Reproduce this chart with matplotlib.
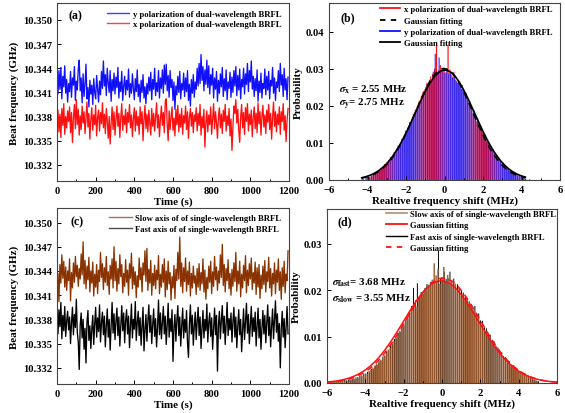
import numpy as np
import matplotlib
matplotlib.use("Agg")
import matplotlib.pyplot as plt
from matplotlib.lines import Line2D
from matplotlib.ticker import MultipleLocator, FormatStrFormatter

plt.rcParams["font.family"] = ["Liberation Serif", "DejaVu Serif"]
plt.rcParams["font.weight"] = "bold"
plt.rcParams["mathtext.fontset"] = "stix"

# ---------------- beat-frequency records (GHz), one sample every 5 s ----------------
sample_step_s = 5

y_pol_dual = [
    10.3425, 10.3408, 10.3437, 10.3414, 10.3441, 10.3402, 10.3430, 10.3417, 10.3443, 10.3409, 10.3426, 10.3398,
    10.3421, 10.3411, 10.3436, 10.3404, 10.3428, 10.3419, 10.3442, 10.3400, 10.3424, 10.3413, 10.3439, 10.3450,
    10.3412, 10.3428, 10.3397, 10.3433, 10.3405, 10.3420, 10.3445, 10.3402, 10.3416, 10.3392, 10.3425, 10.3408,
    10.3419, 10.3395, 10.3427, 10.3410, 10.3402, 10.3431, 10.3414, 10.3398, 10.3424, 10.3407, 10.3436, 10.3415,
    10.3449, 10.3418, 10.3432, 10.3406, 10.3440, 10.3421, 10.3410, 10.3437, 10.3399, 10.3426, 10.3412, 10.3434,
    10.3408, 10.3429, 10.3416, 10.3441, 10.3403, 10.3423, 10.3411, 10.3436, 10.3400, 10.3418, 10.3430, 10.3407,
    10.3425, 10.3413, 10.3439, 10.3404, 10.3421, 10.3409, 10.3433, 10.3415, 10.3401, 10.3427, 10.3411, 10.3438,
    10.3405, 10.3420, 10.3398, 10.3425, 10.3410, 10.3432, 10.3403, 10.3417, 10.3396, 10.3421, 10.3408, 10.3429,
    10.3412, 10.3435, 10.3401, 10.3426, 10.3414, 10.3440, 10.3406, 10.3422, 10.3411, 10.3437, 10.3403, 10.3428,
    10.3415, 10.3438, 10.3409, 10.3444, 10.3420, 10.3445, 10.3412, 10.3431, 10.3404, 10.3437, 10.3416, 10.3426,
    10.3400, 10.3423, 10.3389, 10.3418, 10.3407, 10.3430, 10.3410, 10.3436, 10.3402, 10.3421, 10.3413, 10.3434,
    10.3405, 10.3428, 10.3411, 10.3437, 10.3400, 10.3420, 10.3393, 10.3426, 10.3409, 10.3432, 10.3404, 10.3423,
    10.3414, 10.3440, 10.3418, 10.3446, 10.3421, 10.3457, 10.3425, 10.3442, 10.3412, 10.3438, 10.3420, 10.3450,
    10.3416, 10.3443, 10.3408, 10.3432, 10.3419, 10.3440, 10.3403, 10.3428, 10.3414, 10.3436, 10.3399, 10.3425,
    10.3409, 10.3433, 10.3417, 10.3441, 10.3405, 10.3427, 10.3412, 10.3438, 10.3401, 10.3423, 10.3415, 10.3435,
    10.3404, 10.3429, 10.3410, 10.3437, 10.3418, 10.3442, 10.3406, 10.3431, 10.3413, 10.3439, 10.3402, 10.3426,
    10.3417, 10.3440, 10.3408, 10.3433, 10.3420, 10.3446, 10.3411, 10.3437, 10.3423, 10.3449, 10.3414, 10.3430,
    10.3405, 10.3427, 10.3412, 10.3438, 10.3399, 10.3424, 10.3410, 10.3434, 10.3403, 10.3421, 10.3415, 10.3439,
    10.3407, 10.3430, 10.3413, 10.3436, 10.3402, 10.3425, 10.3418, 10.3441, 10.3409, 10.3428, 10.3400, 10.3423,
    10.3416, 10.3437, 10.3411, 10.3446, 10.3419, 10.3432, 10.3405, 10.3440, 10.3413, 10.3427, 10.3401, 10.3429,
]

x_pol_dual = [
    10.3372, 10.3388, 10.3361, 10.3383, 10.3354, 10.3390, 10.3369, 10.3396, 10.3358, 10.3380, 10.3366, 10.3387,
    10.3374, 10.3392, 10.3360, 10.3385, 10.3348, 10.3379, 10.3395, 10.3365, 10.3401, 10.3370, 10.3389, 10.3357,
    10.3381, 10.3364, 10.3393, 10.3372, 10.3386, 10.3359, 10.3378, 10.3398, 10.3367, 10.3384, 10.3352, 10.3376,
    10.3391, 10.3363, 10.3382, 10.3370, 10.3394, 10.3356, 10.3379, 10.3388, 10.3362, 10.3385, 10.3371, 10.3397,
    10.3366, 10.3383, 10.3359, 10.3390, 10.3375, 10.3353, 10.3380, 10.3346, 10.3372, 10.3392, 10.3364, 10.3386,
    10.3357, 10.3377, 10.3393, 10.3368, 10.3384, 10.3354, 10.3379, 10.3396, 10.3363, 10.3381, 10.3370, 10.3389,
    10.3360, 10.3385, 10.3373, 10.3395, 10.3366, 10.3382, 10.3355, 10.3378, 10.3391, 10.3362, 10.3387, 10.3369,
    10.3380, 10.3358, 10.3392, 10.3371, 10.3386, 10.3350, 10.3376, 10.3394, 10.3365, 10.3383, 10.3361, 10.3388,
    10.3373, 10.3357, 10.3390, 10.3368, 10.3384, 10.3362, 10.3379, 10.3397, 10.3366, 10.3382, 10.3355, 10.3377,
    10.3393, 10.3369, 10.3385, 10.3360, 10.3399, 10.3402, 10.3371, 10.3350, 10.3387, 10.3364, 10.3380, 10.3392,
    10.3363, 10.3378, 10.3356, 10.3389, 10.3370, 10.3394, 10.3361, 10.3383, 10.3367, 10.3390, 10.3358, 10.3381,
    10.3372, 10.3393, 10.3364, 10.3386, 10.3353, 10.3379, 10.3390, 10.3368, 10.3385, 10.3360, 10.3382, 10.3374,
    10.3391, 10.3362, 10.3384, 10.3369, 10.3395, 10.3357, 10.3380, 10.3366, 10.3389, 10.3342, 10.3373, 10.3387,
    10.3361, 10.3382, 10.3370, 10.3392, 10.3358, 10.3378, 10.3396, 10.3365, 10.3386, 10.3372, 10.3353, 10.3380,
    10.3391, 10.3366, 10.3383, 10.3359, 10.3388, 10.3374, 10.3395, 10.3362, 10.3381, 10.3369, 10.3390, 10.3356,
    10.3377, 10.3338, 10.3368, 10.3393, 10.3384, 10.3401, 10.3372, 10.3389, 10.3363, 10.3348, 10.3380, 10.3395,
    10.3366, 10.3385, 10.3358, 10.3391, 10.3374, 10.3396, 10.3362, 10.3383, 10.3370, 10.3388, 10.3355, 10.3379,
    10.3392, 10.3365, 10.3384, 10.3360, 10.3397, 10.3371, 10.3386, 10.3357, 10.3380, 10.3394, 10.3367, 10.3382,
    10.3359, 10.3388, 10.3373, 10.3395, 10.3364, 10.3384, 10.3352, 10.3379, 10.3398, 10.3368, 10.3386, 10.3361,
    10.3383, 10.3370, 10.3392, 10.3358, 10.3386, 10.3374, 10.3396, 10.3363, 10.3381, 10.3349, 10.3375, 10.3390,
]

slow_single = [
    10.3412, 10.3437, 10.3402, 10.3448, 10.3425, 10.3460, 10.3431, 10.3452, 10.3420, 10.3445, 10.3416, 10.3440,
    10.3428, 10.3455, 10.3403, 10.3438, 10.3419, 10.3450, 10.3426, 10.3458, 10.3433, 10.3447, 10.3421, 10.3443,
    10.3430, 10.3461, 10.3435, 10.3476, 10.3424, 10.3453, 10.3418, 10.3446, 10.3429, 10.3457, 10.3414, 10.3440,
    10.3425, 10.3451, 10.3409, 10.3436, 10.3420, 10.3448, 10.3412, 10.3441, 10.3427, 10.3463, 10.3432, 10.3449,
    10.3417, 10.3444, 10.3426, 10.3458, 10.3422, 10.3439, 10.3411, 10.3447, 10.3430, 10.3455, 10.3419, 10.3470,
    10.3428, 10.3452, 10.3415, 10.3443, 10.3424, 10.3460, 10.3433, 10.3448, 10.3413, 10.3437, 10.3421, 10.3454,
    10.3426, 10.3441, 10.3410, 10.3449, 10.3431, 10.3462, 10.3418, 10.3445, 10.3423, 10.3439, 10.3407, 10.3434,
    10.3420, 10.3456, 10.3429, 10.3444, 10.3414, 10.3450, 10.3435, 10.3465, 10.3427, 10.3468, 10.3416, 10.3442,
    10.3425, 10.3453, 10.3410, 10.3437, 10.3422, 10.3447, 10.3418, 10.3441, 10.3429, 10.3459, 10.3412, 10.3436,
    10.3420, 10.3448, 10.3426, 10.3455, 10.3408, 10.3440, 10.3417, 10.3452, 10.3424, 10.3438, 10.3404, 10.3433,
    10.3419, 10.3447, 10.3406, 10.3442, 10.3428, 10.3463, 10.3430, 10.3482, 10.3421, 10.3450, 10.3413, 10.3444,
    10.3427, 10.3456, 10.3415, 10.3440, 10.3423, 10.3451, 10.3409, 10.3437, 10.3419, 10.3446, 10.3425, 10.3434,
    10.3411, 10.3443, 10.3420, 10.3449, 10.3416, 10.3438, 10.3424, 10.3455, 10.3414, 10.3441, 10.3405, 10.3432,
    10.3418, 10.3446, 10.3426, 10.3452, 10.3412, 10.3439, 10.3421, 10.3458, 10.3429, 10.3445, 10.3416, 10.3440,
    10.3425, 10.3460, 10.3432, 10.3473, 10.3422, 10.3448, 10.3414, 10.3443, 10.3428, 10.3454, 10.3418, 10.3437,
    10.3410, 10.3442, 10.3421, 10.3450, 10.3427, 10.3463, 10.3415, 10.3440, 10.3424, 10.3452, 10.3408, 10.3436,
    10.3419, 10.3447, 10.3428, 10.3459, 10.3413, 10.3441, 10.3422, 10.3449, 10.3430, 10.3456, 10.3417, 10.3438,
    10.3425, 10.3451, 10.3411, 10.3444, 10.3420, 10.3448, 10.3406, 10.3435, 10.3418, 10.3446, 10.3423, 10.3453,
    10.3414, 10.3439, 10.3427, 10.3457, 10.3419, 10.3443, 10.3409, 10.3437, 10.3424, 10.3450, 10.3412, 10.3441,
    10.3426, 10.3455, 10.3416, 10.3439, 10.3405, 10.3444, 10.3421, 10.3452, 10.3413, 10.3436, 10.3428, 10.3465,
]

fast_single = [
    10.3380, 10.3362, 10.3392, 10.3371, 10.3401, 10.3356, 10.3385, 10.3366, 10.3396, 10.3359, 10.3378, 10.3390,
    10.3367, 10.3383, 10.3350, 10.3376, 10.3395, 10.3361, 10.3386, 10.3370, 10.3405, 10.3364, 10.3352, 10.3318,
    10.3373, 10.3388, 10.3357, 10.3380, 10.3343, 10.3369, 10.3326, 10.3377, 10.3391, 10.3354, 10.3372, 10.3344,
    10.3368, 10.3385, 10.3349, 10.3375, 10.3395, 10.3358, 10.3382, 10.3365, 10.3398, 10.3352, 10.3376, 10.3389,
    10.3361, 10.3384, 10.3346, 10.3372, 10.3393, 10.3358, 10.3380, 10.3342, 10.3370, 10.3401, 10.3363, 10.3387,
    10.3355, 10.3378, 10.3394, 10.3360, 10.3383, 10.3347, 10.3371, 10.3397, 10.3366, 10.3388, 10.3351, 10.3379,
    10.3392, 10.3362, 10.3384, 10.3345, 10.3373, 10.3399, 10.3357, 10.3380, 10.3368, 10.3402, 10.3354, 10.3376,
    10.3390, 10.3360, 10.3382, 10.3348, 10.3372, 10.3395, 10.3341, 10.3367, 10.3386, 10.3353, 10.3378, 10.3398,
    10.3364, 10.3385, 10.3350, 10.3374, 10.3393, 10.3359, 10.3381, 10.3346, 10.3370, 10.3404, 10.3361, 10.3388,
    10.3356, 10.3377, 10.3396, 10.3362, 10.3384, 10.3349, 10.3373, 10.3400, 10.3358, 10.3381, 10.3365, 10.3392,
    10.3328, 10.3370, 10.3386, 10.3353, 10.3379, 10.3397, 10.3360, 10.3383, 10.3347, 10.3372, 10.3394, 10.3357,
    10.3380, 10.3364, 10.3391, 10.3351, 10.3333, 10.3375, 10.3398, 10.3362, 10.3385, 10.3348, 10.3371, 10.3389,
    10.3355, 10.3378, 10.3395, 10.3360, 10.3383, 10.3344, 10.3369, 10.3391, 10.3357, 10.3380, 10.3366, 10.3399,
    10.3352, 10.3376, 10.3388, 10.3359, 10.3382, 10.3343, 10.3370, 10.3394, 10.3361, 10.3385, 10.3316, 10.3373,
    10.3390, 10.3356, 10.3379, 10.3397, 10.3363, 10.3384, 10.3349, 10.3374, 10.3401, 10.3360, 10.3381, 10.3367,
    10.3388, 10.3352, 10.3377, 10.3395, 10.3358, 10.3383, 10.3345, 10.3371, 10.3392, 10.3361, 10.3380, 10.3340,
    10.3368, 10.3393, 10.3355, 10.3378, 10.3400, 10.3363, 10.3386, 10.3350, 10.3374, 10.3396, 10.3359, 10.3382,
    10.3365, 10.3389, 10.3347, 10.3372, 10.3394, 10.3357, 10.3380, 10.3343, 10.3369, 10.3391, 10.3362, 10.3385,
    10.3351, 10.3376, 10.3398, 10.3360, 10.3383, 10.3346, 10.3371, 10.3393, 10.3356, 10.3379, 10.3403, 10.3364,
    10.3387, 10.3353, 10.3375, 10.3320, 10.3368, 10.3390, 10.3358, 10.3381, 10.3345, 10.3372, 10.3396, 10.3362,
]

# ---------------- histograms of relative frequency shift (MHz) ----------------
bin_width = 0.1
dual_bin_start = -4.4          # first bin centre for the dual-wavelength laser
x_pol_prob = [
    0.0, 0.0, 0.0003, 0.0, 0.0006, 0.0008, 0.0011, 0.0013, 0.0018, 0.0022,
    0.0025, 0.0033, 0.0031, 0.0043, 0.0046, 0.0049, 0.0062, 0.0060, 0.0075, 0.0079,
    0.0093, 0.0096, 0.0111, 0.0115, 0.0133, 0.0138, 0.0156, 0.0160, 0.0178, 0.0190,
    0.0195, 0.0214, 0.0222, 0.0238, 0.0245, 0.0262, 0.0255, 0.0279, 0.0286, 0.0300,
    0.0365, 0.0296, 0.0310, 0.0292, 0.0302, 0.0290, 0.0365, 0.0298, 0.0283, 0.0292,
    0.0270, 0.0262, 0.0266, 0.0245, 0.0243, 0.0226, 0.0221, 0.0205, 0.0200, 0.0180,
    0.0176, 0.0158, 0.0155, 0.0136, 0.0131, 0.0120, 0.0104, 0.0100, 0.0086, 0.0083,
    0.0070, 0.0066, 0.0056, 0.0052, 0.0043, 0.0041, 0.0033, 0.0030, 0.0025, 0.0022,
    0.0018, 0.0015, 0.0012, 0.0010, 0.0007, 0.0005, 0.0003, 0.0, 0.0,
]
y_pol_prob = [
    0.0, 0.0004, 0.0, 0.0005, 0.0008, 0.0007, 0.0012, 0.0016, 0.0017, 0.0024,
    0.0028, 0.0029, 0.0037, 0.0038, 0.0047, 0.0053, 0.0057, 0.0066, 0.0071, 0.0085,
    0.0088, 0.0101, 0.0106, 0.0121, 0.0126, 0.0142, 0.0148, 0.0165, 0.0171, 0.0186,
    0.0200, 0.0206, 0.0227, 0.0232, 0.0250, 0.0255, 0.0270, 0.0268, 0.0292, 0.0340,
    0.0288, 0.0330, 0.0295, 0.0303, 0.0289, 0.0300, 0.0287, 0.0293, 0.0276, 0.0280,
    0.0266, 0.0270, 0.0252, 0.0256, 0.0236, 0.0235, 0.0215, 0.0212, 0.0193, 0.0189,
    0.0170, 0.0166, 0.0147, 0.0144, 0.0125, 0.0122, 0.0107, 0.0101, 0.0091, 0.0084,
    0.0075, 0.0067, 0.0061, 0.0053, 0.0047, 0.0042, 0.0036, 0.0032, 0.0026, 0.0024,
    0.0019, 0.0016, 0.0013, 0.0011, 0.0008, 0.0005, 0.0004, 0.0, 0.0002,
]

single_bin_start = -5.8        # first bin centre for the single-wavelength laser
slow_prob = [
    0.0002, 0.0, 0.0003, 0.0002, 0.0004, 0.0003, 0.0005, 0.0004, 0.0006, 0.0005,
    0.0008, 0.0007, 0.0010, 0.0009, 0.0013, 0.0012, 0.0017, 0.0016, 0.0021, 0.0020,
    0.0026, 0.0028, 0.0033, 0.0036, 0.0041, 0.0043, 0.0050, 0.0052, 0.0060, 0.0064,
    0.0072, 0.0076, 0.0086, 0.0090, 0.0099, 0.0104, 0.0112, 0.0117, 0.0128, 0.0131,
    0.0143, 0.0147, 0.0158, 0.0160, 0.0172, 0.0165, 0.0182, 0.0186, 0.0195, 0.0201,
    0.0198, 0.0212, 0.0207, 0.0223, 0.0258, 0.0232, 0.0246, 0.0214, 0.0228, 0.0250,
    0.0219, 0.0233, 0.0211, 0.0222, 0.0205, 0.0214, 0.0198, 0.0205, 0.0189, 0.0193,
    0.0178, 0.0183, 0.0166, 0.0169, 0.0152, 0.0156, 0.0140, 0.0141, 0.0127, 0.0126,
    0.0112, 0.0113, 0.0099, 0.0100, 0.0085, 0.0087, 0.0073, 0.0075, 0.0062, 0.0064,
    0.0053, 0.0054, 0.0044, 0.0046, 0.0036, 0.0038, 0.0030, 0.0031, 0.0025, 0.0026,
    0.0020, 0.0021, 0.0016, 0.0017, 0.0012, 0.0011, 0.0008, 0.0006, 0.0004,
]
fast_prob = [
    0.0, 0.0003, 0.0002, 0.0004, 0.0003, 0.0005, 0.0004, 0.0006, 0.0005, 0.0007,
    0.0006, 0.0009, 0.0008, 0.0012, 0.0011, 0.0015, 0.0014, 0.0019, 0.0018, 0.0024,
    0.0023, 0.0031, 0.0030, 0.0038, 0.0039, 0.0047, 0.0048, 0.0057, 0.0058, 0.0068,
    0.0070, 0.0081, 0.0083, 0.0095, 0.0096, 0.0108, 0.0110, 0.0122, 0.0124, 0.0137,
    0.0139, 0.0152, 0.0166, 0.0205, 0.0178, 0.0215, 0.0185, 0.0196, 0.0192, 0.0205,
    0.0213, 0.0208, 0.0218, 0.0216, 0.0224, 0.0220, 0.0285, 0.0226, 0.0221, 0.0240,
    0.0224, 0.0226, 0.0240, 0.0215, 0.0225, 0.0210, 0.0213, 0.0203, 0.0199, 0.0195,
    0.0187, 0.0182, 0.0176, 0.0170, 0.0162, 0.0166, 0.0149, 0.0150, 0.0135, 0.0134,
    0.0120, 0.0118, 0.0106, 0.0104, 0.0093, 0.0090, 0.0080, 0.0077, 0.0068, 0.0066,
    0.0058, 0.0056, 0.0048, 0.0047, 0.0040, 0.0038, 0.0033, 0.0031, 0.0026, 0.0024,
    0.0020, 0.0019, 0.0015, 0.0014, 0.0011, 0.0009, 0.0007, 0.0005, 0.0003,
]

# Gaussian fit parameters: (amplitude, centre MHz, standard deviation MHz)
fit_x_pol = (0.0300, -0.02, 1.50)
fit_y_pol = (0.0296, 0.02, 1.55)
fit_slow = (0.0220, -0.05, 1.95)
fit_fast = (0.0226, 0.05, 1.92)

sigma_text_dual = [r"$\sigma_\mathbf{x}$ = 2.55 MHz", r"$\sigma_\mathbf{y}$= 2.75 MHz"]
sigma_text_single = [r"$\sigma_\mathbf{fast}$= 3.68 MHz", r"$\sigma_\mathbf{slow}$ = 3.55 MHz"]

# ---------------- colours ----------------
BLUE = "#1010ff"
RED = "#ff1010"
BROWN_LINE = "#8a3300"
BROWN_BAR = "#9c5a2e"
BROWN_LEG = "#b89478"
SPINE = "#444444"


def gauss(x, amp, mu, sig):
    return amp * np.exp(-(x - mu) ** 2 / (2 * sig ** 2))


def style_axes(ax):
    for s in ax.spines.values():
        s.set_color(SPINE)
        s.set_linewidth(0.8)
    ax.tick_params(direction="in", which="both", labelsize=7.6, width=0.7,
                   colors="black", top=False, right=False)
    ax.tick_params(which="major", length=3)
    ax.tick_params(which="minor", length=1.8)
    for lab in ax.get_xticklabels() + ax.get_yticklabels():
        lab.set_fontweight("bold")


def thin_bars(ax, x, h, **kw):
    # unsnapped bars so that neighbouring thin bars blend smoothly
    bars = ax.bar(x, h, lw=0, **kw)
    for p in bars:
        p.set_snap(False)
    return bars


W, H = 565, 414
fig = plt.figure(figsize=(W / 100, H / 100), dpi=100)


def px_axes(left, top, right, bottom):
    return fig.add_axes([left / W, 1 - bottom / H, (right - left) / W, (bottom - top) / H])


ax_a = px_axes(57, 4, 289, 182)
ax_b = px_axes(329, 4, 560, 181)
ax_c = px_axes(57, 209, 289, 385)
ax_d = px_axes(327, 210, 557, 384)

LABEL_FS = 7.9
LEG_FS = 6.2
TS_LW = 0.95

# ---------------- (a) dual-wavelength time records ----------------
ax_a.plot(np.arange(len(y_pol_dual)) * sample_step_s, y_pol_dual, color=BLUE, lw=TS_LW)
ax_a.plot(np.arange(len(x_pol_dual)) * sample_step_s, x_pol_dual, color=RED, lw=TS_LW)
ax_a.set_xlim(0, 1200)
ax_a.set_ylim(10.3300, 10.3521)

# ---------------- (c) single-wavelength time records ----------------
ax_c.plot(np.arange(len(slow_single)) * sample_step_s, slow_single, color=BROWN_LINE, lw=TS_LW)
ax_c.plot(np.arange(len(fast_single)) * sample_step_s, fast_single, color="black", lw=TS_LW)
ax_c.set_xlim(0, 1200)
ax_c.set_ylim(10.3300, 10.3518)

for ax in (ax_a, ax_c):
    ax.xaxis.set_major_locator(MultipleLocator(200))
    ax.xaxis.set_minor_locator(MultipleLocator(100))
    ax.yaxis.set_major_locator(MultipleLocator(0.003))
    ax.yaxis.set_major_formatter(FormatStrFormatter("%.3f"))
    ax.set_xlabel("Time (s)", fontsize=LABEL_FS, fontweight="bold", labelpad=1)
    ax.set_ylabel("Beat frequency (GHz)", fontsize=LABEL_FS, fontweight="bold", labelpad=3)

ax_a.legend(handles=[Line2D([], [], color=BLUE, lw=1.0, alpha=0.8),
                     Line2D([], [], color=RED, lw=1.0, alpha=0.8)],
            labels=["y polarization of dual-wavelength BRFL",
                    "x polarization of dual-wavelength BRFL"],
            loc="upper right", bbox_to_anchor=(1.0, 1.005), frameon=False,
            handlelength=2.6, handletextpad=0.4,
            labelspacing=0.3, prop={"weight": "bold", "size": LEG_FS})
ax_c.legend(handles=[Line2D([], [], color=BROWN_LINE, lw=1.0, alpha=0.7),
                     Line2D([], [], color="black", lw=1.0, alpha=0.7)],
            labels=["Slow axis of of single-wavelength BRFL",
                    "Fast axis of of single-wavelength BRFL"],
            loc="upper right", bbox_to_anchor=(1.0, 1.01), frameon=False,
            handlelength=2.6, handletextpad=0.4,
            labelspacing=0.3, prop={"weight": "bold", "size": LEG_FS})

# ---------------- (b) dual-wavelength histograms ----------------
xb = dual_bin_start + bin_width * np.arange(len(x_pol_prob))
thin_bars(ax_b, xb - 0.015, x_pol_prob, width=0.06, color=RED)
thin_bars(ax_b, xb + 0.02, y_pol_prob, width=0.065, color=BLUE, alpha=0.8)
xf = np.linspace(-4.3, 4.2, 300)
ax_b.plot(xf, gauss(xf, *fit_x_pol), color="black", lw=1.2, ls=(0, (4, 3)))
ax_b.plot(xf, gauss(xf, *fit_y_pol), color="black", lw=1.2)
ax_b.set_xlim(-6, 6)
ax_b.set_ylim(0, 0.0477)
ax_b.yaxis.set_major_locator(MultipleLocator(0.01))
ax_b.yaxis.set_major_formatter(FormatStrFormatter("%.2f"))
ax_b.text(-5.5, 0.0247, sigma_text_dual[0], fontsize=7.8, fontweight="bold", va="center")
ax_b.text(-5.5, 0.0206, sigma_text_dual[1], fontsize=7.8, fontweight="bold", va="center")
ax_b.legend(handles=[Line2D([], [], color=RED, lw=1.3),
                     Line2D([], [], color="black", lw=1.3, ls=(0, (3, 3))),
                     Line2D([], [], color=BLUE, lw=1.3),
                     Line2D([], [], color="black", lw=1.3)],
            labels=["x polarization of dual-wavelength BRFL", "Gaussian fitting",
                    "y polarization of dual-wavelength BRFL", "Gaussian fitting"],
            loc="upper right", bbox_to_anchor=(1.0, 1.03), frameon=False,
            handlelength=2.4, handletextpad=0.4,
            labelspacing=0.38, prop={"weight": "bold", "size": LEG_FS})

# ---------------- (d) single-wavelength histograms ----------------
xd = single_bin_start + bin_width * np.arange(len(slow_prob))
thin_bars(ax_d, xd + 0.015, fast_prob, width=0.05, color="black")
thin_bars(ax_d, xd - 0.005, slow_prob, width=0.08, color=BROWN_BAR, alpha=0.92)
xg = np.linspace(-6, 6, 400)
ax_d.plot(xg, gauss(xg, *fit_slow), color=RED, lw=1.1)
ax_d.plot(xg, gauss(xg, *fit_fast), color=RED, lw=1.1, ls=(0, (4, 3)))
ax_d.set_xlim(-6, 6)
ax_d.set_ylim(0, 0.0375)
ax_d.yaxis.set_major_locator(MultipleLocator(0.01))
ax_d.yaxis.set_major_formatter(FormatStrFormatter("%.2f"))
ax_d.text(-5.72, 0.0218, sigma_text_single[0], fontsize=7.8, fontweight="bold", va="center")
ax_d.text(-5.72, 0.0184, sigma_text_single[1], fontsize=7.8, fontweight="bold", va="center")
ax_d.legend(handles=[Line2D([], [], color=BROWN_LEG, lw=1.3),
                     Line2D([], [], color=RED, lw=1.3),
                     Line2D([], [], color="black", lw=1.0),
                     Line2D([], [], color=RED, lw=1.3, ls=(0, (3, 3)))],
            labels=["Slow axis of of single-wavelength BRFL", "Gaussian fitting",
                    "Fast axis of single-wavelength BRFL", "Gaussian fitting"],
            loc="upper right", bbox_to_anchor=(1.03, 1.04), frameon=False,
            handlelength=2.4, handletextpad=0.4,
            labelspacing=0.4, prop={"weight": "bold", "size": LEG_FS})

for ax in (ax_b, ax_d):
    ax.xaxis.set_major_locator(MultipleLocator(2))
    ax.xaxis.set_minor_locator(MultipleLocator(1))
    ax.set_xlabel("Realtive frequency shift (MHz)", fontsize=LABEL_FS, fontweight="bold", labelpad=1)
    ax.set_ylabel("Probability", fontsize=LABEL_FS, fontweight="bold", labelpad=2)

for ax, lab, (fx, fy) in ((ax_a, "(a)", (0.078, 0.93)), (ax_b, "(b)", (0.082, 0.92)),
                          (ax_c, "(c)", (0.086, 0.926)), (ax_d, "(d)", (0.078, 0.93))):
    ax.text(fx, fy, lab, transform=ax.transAxes, fontsize=8.5, fontweight="bold",
            ha="center", va="center")

for ax in (ax_a, ax_b, ax_c, ax_d):
    style_axes(ax)

fig.savefig("out.png", dpi=100)
